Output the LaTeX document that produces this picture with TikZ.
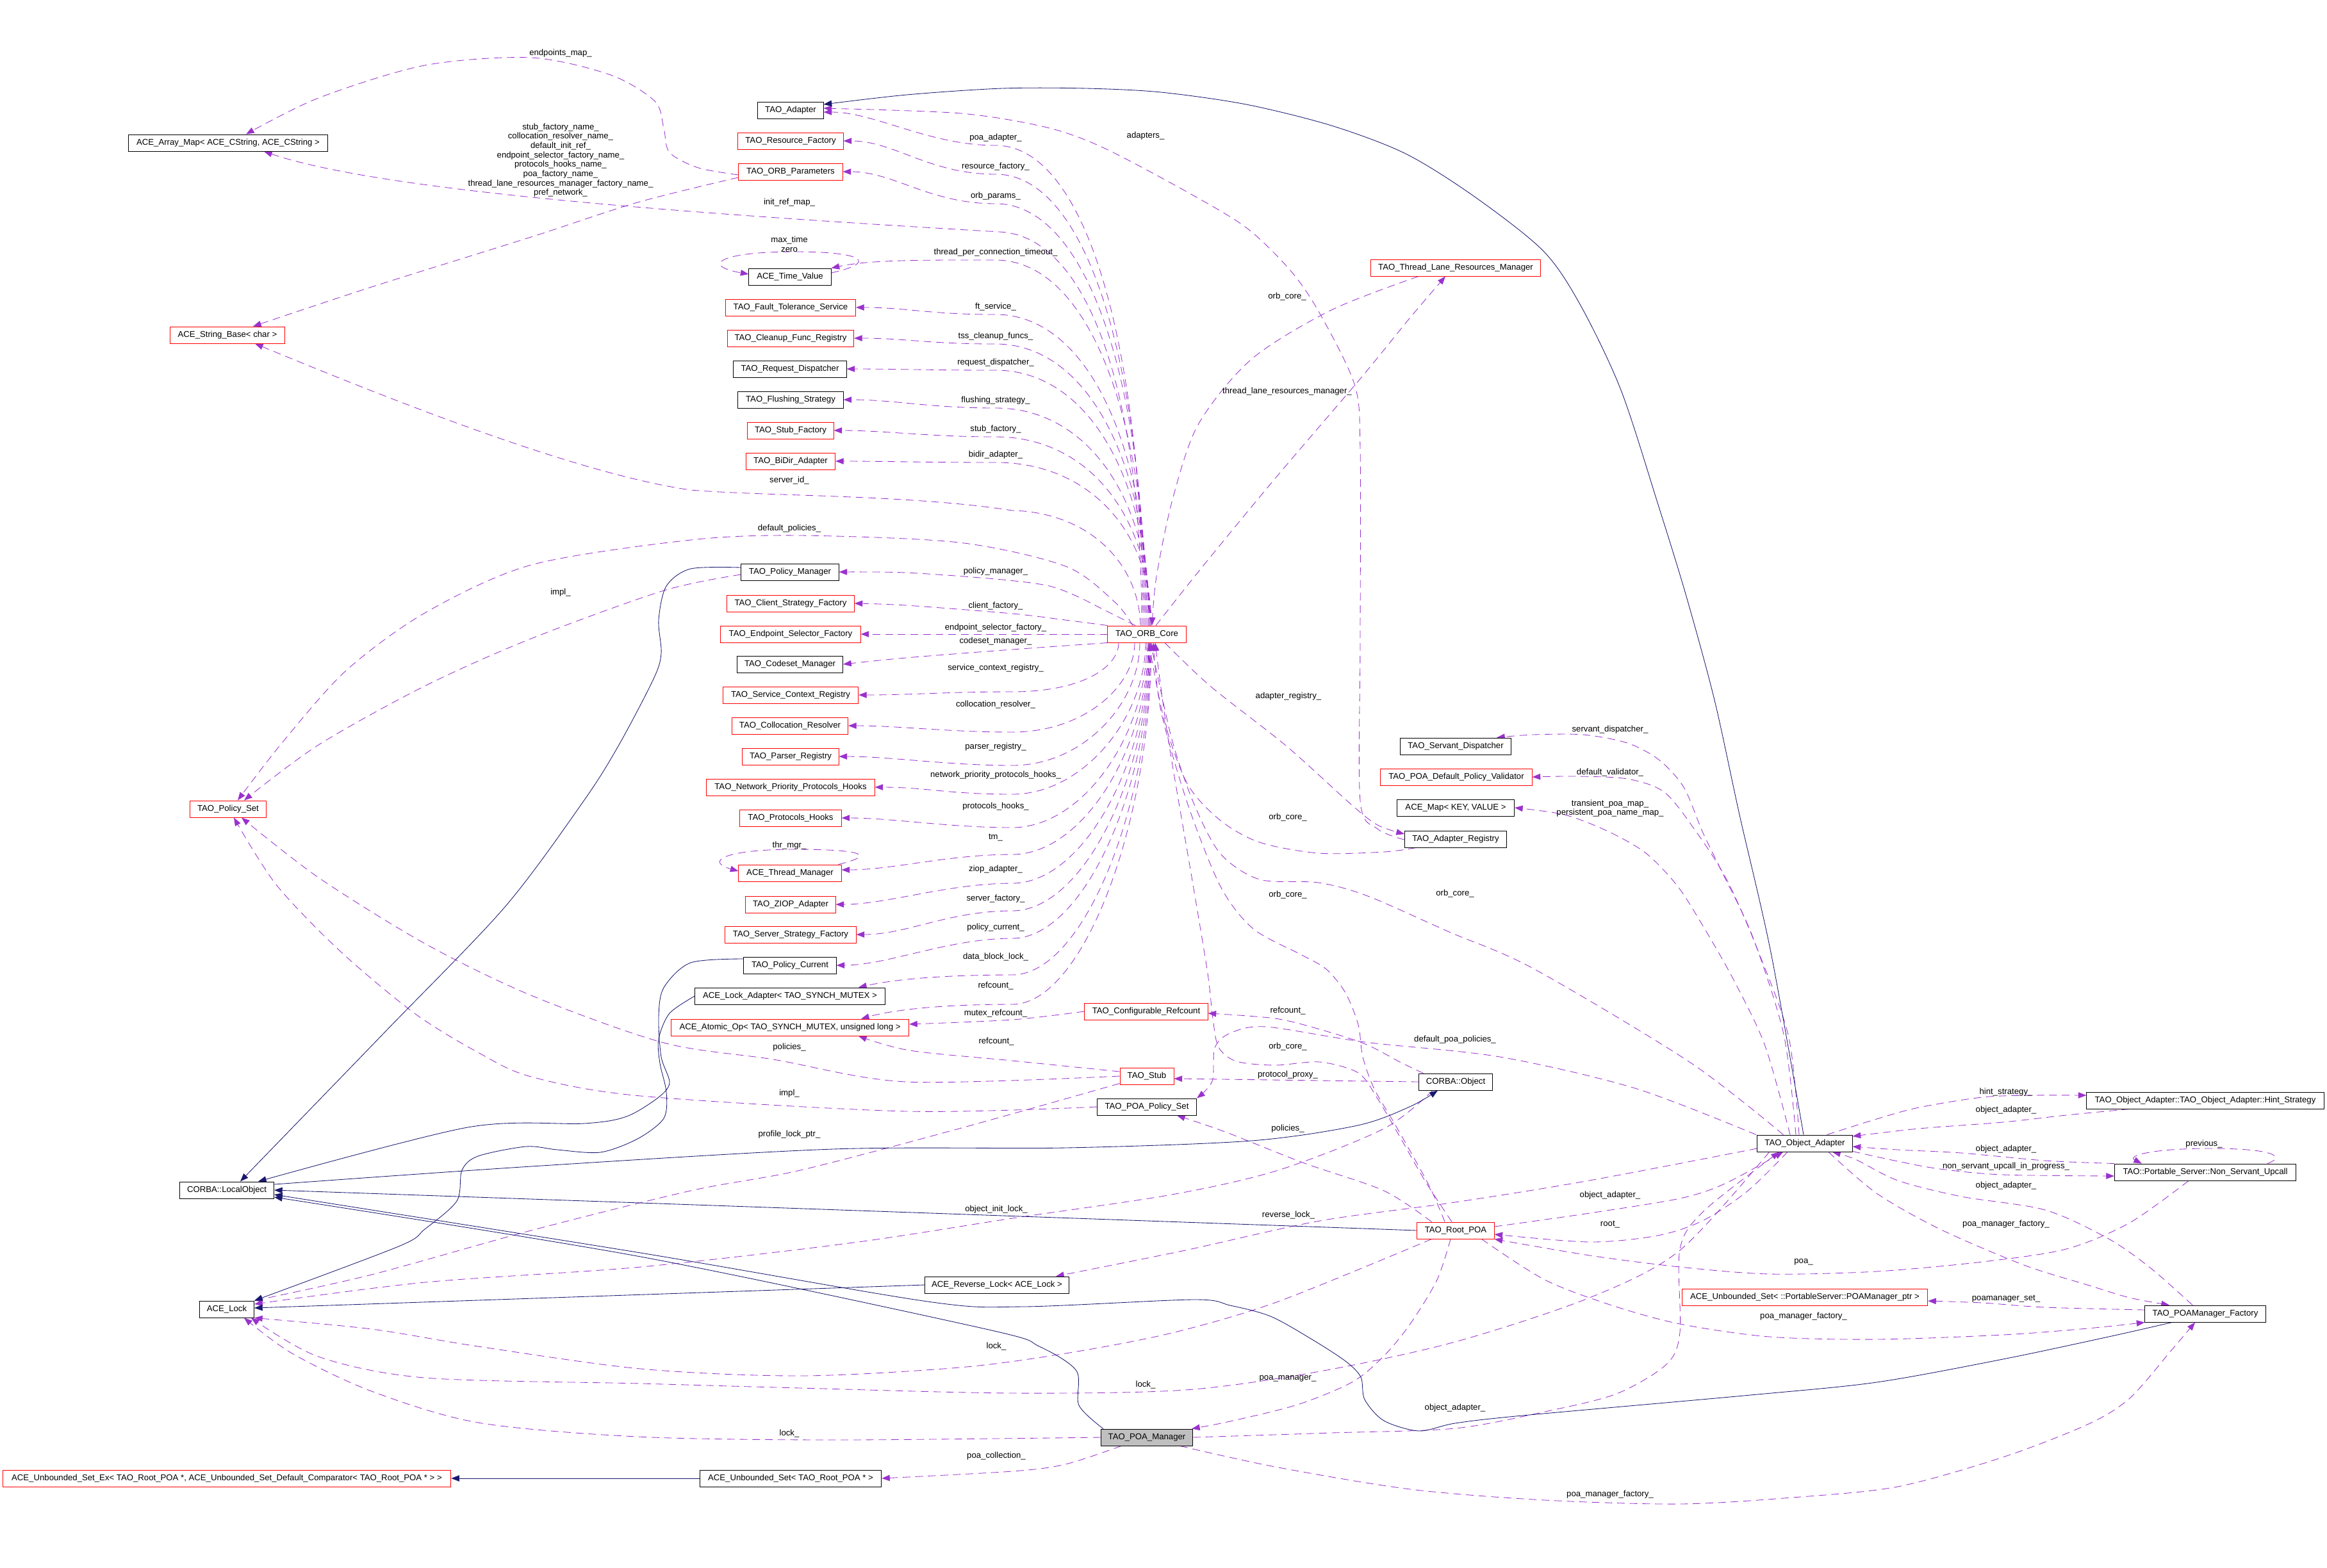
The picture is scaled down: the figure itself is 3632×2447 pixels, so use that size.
\documentclass[tikz,border=0pt]{standalone}
\usepackage{fontspec}
\setmainfont{Liberation Sans}
\usetikzlibrary{arrows.meta,calc}
\definecolor{mpurple}{HTML}{9A32CD}
\definecolor{mnavy}{HTML}{191970}
\definecolor{mgray}{HTML}{BFBFBF}
\newcommand{\fs}{\fontsize{3.75pt}{4.17pt}\selectfont}
\pgfdeclarelayer{bg}
\pgfdeclarelayer{bgfill}
\pgfsetlayers{bgfill,bg,main}
\begin{document}
\begin{tikzpicture}[x=0.01cm,y=-0.01cm,
  box/.style={draw=black, line width=0.28pt, fill=white, inner sep=0pt, minimum height=0.26cm, font=\fs},
  rbox/.style={box, draw=red},
  lbl/.style={inner sep=0pt, font=\fs, align=center},
  mem/.style={draw=mpurple, line width=0.24pt, dash pattern=on 3.4pt off 2.2pt, -{Triangle[length=3.6pt,width=2.7pt]}},
  inh/.style={draw=mnavy, line width=0.24pt, -{Triangle[length=3.6pt,width=2.7pt]}}]
\begin{pgfonlayer}{bgfill}
\fill[white] (0,0) rectangle (3632,2447);
\end{pgfonlayer}
\useasboundingbox (0,0) rectangle (3632,2447);
% ---------------- nodes ----------------
\node[box, minimum width=3.11cm] (arraymap) at (356,223) {ACE\_Array\_Map< ACE\_CString, ACE\_CString >};
\node[rbox, minimum width=1.79cm] (strbase) at (355,523) {ACE\_String\_Base< char >};
\node[box, minimum width=1.02cm] (adapter) at (1234,172) {TAO\_Adapter};
\node[rbox, minimum width=1.64cm] (resfac) at (1234,220) {TAO\_Resource\_Factory};
\node[rbox, minimum width=1.62cm] (orbparams) at (1234,268) {TAO\_ORB\_Parameters};
\node[box, minimum width=1.28cm] (timeval) at (1233,432) {ACE\_Time\_Value};
\node[rbox, minimum width=2.03cm] (ftserv) at (1234,480) {TAO\_Fault\_Tolerance\_Service};
\node[rbox, minimum width=1.97cm] (cleanup) at (1234,528) {TAO\_Cleanup\_Func\_Registry};
\node[box, minimum width=1.76cm] (reqdisp) at (1233,576) {TAO\_Request\_Dispatcher};
\node[box, minimum width=1.64cm] (flush) at (1234,624) {TAO\_Flushing\_Strategy};
\node[rbox, minimum width=1.34cm] (stubfac) at (1234,672) {TAO\_Stub\_Factory};
\node[rbox, minimum width=1.39cm] (bidir) at (1234,720) {TAO\_BiDir\_Adapter};
\node[rbox, minimum width=2.65cm] (tlrm) at (2272,418) {TAO\_Thread\_Lane\_Resources\_Manager};
\node[rbox, minimum width=1.19cm] (policyset) at (356,1263) {TAO\_Policy\_Set};
\node[box, minimum width=1.52cm] (polmgr) at (1233,893) {TAO\_Policy\_Manager};
\node[rbox, minimum width=1.98cm] (clientsf) at (1234,942) {TAO\_Client\_Strategy\_Factory};
\node[rbox, minimum width=2.18cm] (endpsel) at (1234,990) {TAO\_Endpoint\_Selector\_Factory};
\node[box, minimum width=1.65cm] (codeset) at (1233,1037) {TAO\_Codeset\_Manager};
\node[rbox, minimum width=2.11cm] (svcctx) at (1234,1085) {TAO\_Service\_Context\_Registry};
\node[rbox, minimum width=1.81cm] (colloc) at (1233,1133) {TAO\_Collocation\_Resolver};
\node[rbox, minimum width=1.50cm] (parser) at (1234,1181) {TAO\_Parser\_Registry};
\node[rbox, minimum width=2.62cm] (netprio) at (1234,1229) {TAO\_Network\_Priority\_Protocols\_Hooks};
\node[rbox, minimum width=1.58cm] (prothooks) at (1234,1277) {TAO\_Protocols\_Hooks};
\node[rbox, minimum width=1.60cm] (thrmgr) at (1233,1363) {ACE\_Thread\_Manager};
\node[rbox, minimum width=1.40cm] (ziop) at (1234,1412) {TAO\_ZIOP\_Adapter};
\node[rbox, minimum width=2.04cm] (serverfac) at (1234,1459) {TAO\_Server\_Strategy\_Factory};
\node[box, minimum width=1.44cm] (polcur) at (1233,1507) {TAO\_Policy\_Current};
\node[box, minimum width=2.96cm] (lockadapter) at (1233,1555) {ACE\_Lock\_Adapter< TAO\_SYNCH\_MUTEX >};
\node[rbox, minimum width=3.71cm] (atomic) at (1233,1604) {ACE\_Atomic\_Op< TAO\_SYNCH\_MUTEX, unsigned long >};
\node[rbox, minimum width=1.22cm] (orbcore) at (1790,990) {TAO\_ORB\_Core};
\node[rbox, minimum width=1.92cm] (confref) at (1789,1579) {TAO\_Configurable\_Refcount};
\node[rbox, minimum width=0.84cm] (stub) at (1790,1680) {TAO\_Stub};
\node[box, minimum width=1.55cm] (poapolset) at (1790,1728) {TAO\_POA\_Policy\_Set};
\node[box, minimum width=2.25cm] (revlock) at (1556,2006) {ACE\_Reverse\_Lock< ACE\_Lock >};
\node[box, minimum width=1.43cm, fill=mgray] (poamgr) at (1790,2244) {TAO\_POA\_Manager};
\node[box, minimum width=2.83cm] (unbset) at (1234,2308) {ACE\_Unbounded\_Set< TAO\_Root\_POA * >};
\node[rbox, minimum width=6.99cm] (unbsetex) at (354,2308) {ACE\_Unbounded\_Set\_Ex< TAO\_Root\_POA *, ACE\_Unbounded\_Set\_Default\_Comparator< TAO\_Root\_POA * > >};
\node[box, minimum width=1.47cm] (localobj) at (354,1858) {CORBA::LocalObject};
\node[box, minimum width=0.85cm] (acelock) at (354,2044) {ACE\_Lock};
\node[box, minimum width=1.73cm] (servdisp) at (2272,1165) {TAO\_Servant\_Dispatcher};
\node[rbox, minimum width=2.36cm] (poadefval) at (2273,1213) {TAO\_POA\_Default\_Policy\_Validator};
\node[box, minimum width=1.83cm] (acemap) at (2272,1261) {ACE\_Map< KEY, VALUE >};
\node[box, minimum width=1.59cm] (adreg) at (2272,1310) {TAO\_Adapter\_Registry};
\node[box, minimum width=1.14cm] (corbaobj) at (2272,1689) {CORBA::Object};
\node[box, minimum width=1.48cm] (objadapter) at (2817,1785) {TAO\_Object\_Adapter};
\node[box, minimum width=3.70cm] (hint) at (3442,1718) {TAO\_Object\_Adapter::TAO\_Object\_Adapter::Hint\_Strategy};
\node[box, minimum width=2.83cm] (nsu) at (3442,1830) {TAO::Portable\_Server::Non\_Servant\_Upcall};
\node[rbox, minimum width=1.20cm] (rootpoa) at (2272,1921) {TAO\_Root\_POA};
\node[rbox, minimum width=3.83cm] (unbsetmgr) at (2817,2025) {ACE\_Unbounded\_Set< ::PortableServer::POAManager\_ptr >};
\node[box, minimum width=1.88cm] (poamgrfac) at (3442,2051) {TAO\_POAManager\_Factory};
% ---------------- labels ----------------
\node[lbl] (l01) at (875,83) {endpoints\_map\_};
\node[lbl] (l02) at (875,250) {stub\_factory\_name\_\\collocation\_resolver\_name\_\\default\_init\_ref\_\\endpoint\_selector\_factory\_name\_\\protocols\_hooks\_name\_\\poa\_factory\_name\_\\thread\_lane\_resources\_manager\_factory\_name\_\\pref\_network\_};
\node[lbl] (l03) at (1232,316) {init\_ref\_map\_};
\node[lbl] (l04) at (1232,381) {max\_time\\zero};
\node[lbl] (l05) at (1232,750) {server\_id\_};
\node[lbl] (l06) at (1232,825) {default\_policies\_};
\node[lbl] (l07) at (875,925) {impl\_};
\node[lbl] (l08) at (1232,1320) {thr\_mgr\_};
\node[lbl] (l09) at (1232,1635) {policies\_};
\node[lbl] (l10) at (1232,1707) {impl\_};
\node[lbl] (l11) at (1232,1771) {profile\_lock\_ptr\_};
\node[lbl] (l12) at (1232,2238) {lock\_};
\node[lbl] (l13) at (1554,215) {poa\_adapter\_};
\node[lbl] (l14) at (1554,260) {resource\_factory\_};
\node[lbl] (l15) at (1554,306) {orb\_params\_};
\node[lbl] (l16) at (1554,394) {thread\_per\_connection\_timeout\_};
\node[lbl] (l17) at (1554,479) {ft\_service\_};
\node[lbl] (l18) at (1554,525) {tss\_cleanup\_funcs\_};
\node[lbl] (l19) at (1554,566) {request\_dispatcher\_};
\node[lbl] (l20) at (1554,625) {flushing\_strategy\_};
\node[lbl] (l21) at (1554,670) {stub\_factory\_};
\node[lbl] (l22) at (1554,710) {bidir\_adapter\_};
\node[lbl] (l23) at (1554,892) {policy\_manager\_};
\node[lbl] (l24) at (1554,946) {client\_factory\_};
\node[lbl] (l25) at (1554,980) {endpoint\_selector\_factory\_};
\node[lbl] (l26) at (1554,1001) {codeset\_manager\_};
\node[lbl] (l27) at (1554,1043) {service\_context\_registry\_};
\node[lbl] (l28) at (1554,1100) {collocation\_resolver\_};
\node[lbl] (l29) at (1554,1166) {parser\_registry\_};
\node[lbl] (l30) at (1554,1210) {network\_priority\_protocols\_hooks\_};
\node[lbl] (l31) at (1554,1259) {protocols\_hooks\_};
\node[lbl] (l32) at (1554,1308) {tm\_};
\node[lbl] (l33) at (1554,1357) {ziop\_adapter\_};
\node[lbl] (l34) at (1554,1403) {server\_factory\_};
\node[lbl] (l35) at (1554,1448) {policy\_current\_};
\node[lbl] (l36) at (1554,1494) {data\_block\_lock\_};
\node[lbl] (l37) at (1554,1539) {refcount\_};
\node[lbl] (l38) at (1554,1582) {mutex\_refcount\_};
\node[lbl] (l39) at (1555,1626) {refcount\_};
\node[lbl] (l40) at (1555,1888) {object\_init\_lock\_};
\node[lbl] (l41) at (1555,2102) {lock\_};
\node[lbl] (l42) at (1555,2273) {poa\_collection\_};
\node[lbl] (l43) at (1788,212) {adapters\_};
\node[lbl] (l44) at (1788,2162) {lock\_};
\node[lbl] (l45) at (2009,463) {orb\_core\_};
\node[lbl] (l46) at (2009,611) {thread\_lane\_resources\_manager\_};
\node[lbl] (l47) at (2011,1087) {adapter\_registry\_};
\node[lbl] (l48) at (2010,1276) {orb\_core\_};
\node[lbl] (l49) at (2010,1397) {orb\_core\_};
\node[lbl] (l50) at (2010,1578) {refcount\_};
\node[lbl] (l51) at (2010,1634) {orb\_core\_};
\node[lbl] (l52) at (2010,1678) {protocol\_proxy\_};
\node[lbl] (l53) at (2010,1762) {policies\_};
\node[lbl] (l54) at (2011,1897) {reverse\_lock\_};
\node[lbl] (l55) at (2010,2152) {poa\_manager\_};
\node[lbl] (l56) at (2271,1395) {orb\_core\_};
\node[lbl] (l57) at (2271,1623) {default\_poa\_policies\_};
\node[lbl] (l58) at (2271,2198) {object\_adapter\_};
\node[lbl] (l59) at (2513,1139) {servant\_dispatcher\_};
\node[lbl] (l60) at (2513,1206) {default\_validator\_};
\node[lbl] (l61) at (2513,1262) {transient\_poa\_map\_\\persistent\_poa\_name\_map\_};
\node[lbl] (l62) at (2513,1866) {object\_adapter\_};
\node[lbl] (l63) at (2513,1912) {root\_};
\node[lbl] (l64) at (2513,2333) {poa\_manager\_factory\_};
\node[lbl] (l65) at (2815,1970) {poa\_};
\node[lbl] (l66) at (2815,2055) {poa\_manager\_factory\_};
\node[lbl] (l67) at (3131,1705) {hint\_strategy\_};
\node[lbl] (l68) at (3131,1733) {object\_adapter\_};
\node[lbl] (l69) at (3131,1794) {object\_adapter\_};
\node[lbl] (l70) at (3131,1821) {non\_servant\_upcall\_in\_progress\_};
\node[lbl] (l71) at (3131,1851) {object\_adapter\_};
\node[lbl] (l72) at (3131,1911) {poa\_manager\_factory\_};
\node[lbl] (l73) at (3131,2028) {poamanager\_set\_};
\node[lbl] (l74) at (3440,1786) {previous\_};
% ---------------- edges ----------------
\begin{pgfonlayer}{bg}
% upper fan from TAO_ORB_Core
\draw[mem] ($(orbcore.north)+(-6,0)$) .. controls (1784,558) and (1700,227) .. (1554,227) .. controls (1450,227) and (1365,175) .. ($(adapter.east)+(0,3)$);
\draw[mem] ($(orbcore.north)+(-4,0)$) .. controls (1786,583) and (1700,272) .. (1554,272) .. controls (1450,272) and (1396,220) .. (resfac.east);
\draw[mem] ($(orbcore.north)+(-2,0)$) .. controls (1788,608) and (1700,318) .. (1554,318) .. controls (1450,318) and (1395,268) .. (orbparams.east);
\draw[mem] (orbcore.north) .. controls (1790,656) and (1700,406) .. (1554,406) .. controls (1450,406) and (1360,405) .. (timeval.north east);
\draw[mem] ($(orbcore.north)+(2,0)$) .. controls (1792,703) and (1700,491) .. (1554,491) .. controls (1450,491) and (1415,480) .. (ftserv.east);
\draw[mem] ($(orbcore.north)+(3,0)$) .. controls (1793,728) and (1700,537) .. (1554,537) .. controls (1450,537) and (1412,528) .. (cleanup.east);
\draw[mem] ($(orbcore.north)+(4,0)$) .. controls (1794,751) and (1700,578) .. (1554,578) .. controls (1450,578) and (1401,576) .. (reqdisp.east);
\draw[mem] ($(orbcore.north)+(5,0)$) .. controls (1795,783) and (1700,637) .. (1554,637) .. controls (1450,637) and (1396,624) .. (flush.east);
\draw[mem] ($(orbcore.north)+(6,0)$) .. controls (1796,808) and (1700,682) .. (1554,682) .. controls (1450,682) and (1381,672) .. (stubfac.east);
\draw[mem] ($(orbcore.north)+(7,0)$) .. controls (1797,830) and (1700,722) .. (1554,722) .. controls (1450,722) and (1383,720) .. (bidir.east);
\draw[mem] ($(orbcore.north)+(-8,0)$) .. controls (1782,620) and (1700,368) .. (1560,362) .. controls (1100,335) and (600,300) .. ($(arraymap.south)+(56,0)$);
\draw[mem] ($(orbcore.north)+(-10,0)$) .. controls (1778,880) and (1700,800) .. (1580,797) .. controls (1420,772) and (1200,775) .. (1078,765) .. controls (900,740) and (600,620) .. ($(strbase.south)+(43,0)$);
\draw[mem] plot[smooth] coordinates {($(orbcore.north)+(-22,0)$) (1740,940) (1663,884) (1497,847) (1249,836) (1078,843) (829,882) (663,957) (539,1048) (440,1160) ($(policyset.north)+(15,0)$)};
\draw[mem] plot[smooth] coordinates {($(orbcore.north)+(-18,0)$) (1723,952) (1679,930) (1634,914) (1554,904) (1414,894) (polmgr.east)};
\draw[mem] plot[smooth] coordinates {(orbcore.north west) (1663,968) (1580,958) (1414,945) (clientsf.east)};
\draw[mem] (orbcore.west) -- (endpsel.east);
\draw[mem] plot[smooth] coordinates {(orbcore.south west) (1580,1014) (1414,1027) (codeset.east)};
% lower fan
\draw[mem] ($(orbcore.south)+(-44,0)$) .. controls (1746,1041) and (1690,1080) .. (1580,1080) .. controls (1480,1080) and (1419,1085) .. (svcctx.east);
\draw[mem] ($(orbcore.south)+(-19,0)$) .. controls (1771,1073) and (1690,1143) .. (1580,1143) .. controls (1480,1143) and (1404,1133) .. (colloc.east);
\draw[mem] ($(orbcore.south)+(-11,0)$) .. controls (1779,1099) and (1690,1195) .. (1580,1195) .. controls (1480,1195) and (1389,1181) .. (parser.east);
\draw[mem] ($(orbcore.south)+(-2,0)$) .. controls (1788,1121) and (1690,1240) .. (1580,1240) .. controls (1480,1240) and (1445,1229) .. (netprio.east);
\draw[mem] (orbcore.south) .. controls (1790,1147) and (1690,1292) .. (1580,1292) .. controls (1480,1292) and (1393,1277) .. (prothooks.east);
\draw[mem] ($(orbcore.south)+(2,0)$) .. controls (1792,1168) and (1690,1334) .. (1580,1334) .. controls (1480,1334) and (1393,1358) .. ($(thrmgr.east)+(0,-5)$);
\draw[mem] ($(orbcore.south)+(3,0)$) .. controls (1793,1191) and (1690,1379) .. (1580,1379) .. controls (1480,1379) and (1384,1412) .. (ziop.east);
\draw[mem] ($(orbcore.south)+(4,0)$) .. controls (1794,1212) and (1690,1422) .. (1580,1422) .. controls (1480,1422) and (1416,1459) .. (serverfac.east);
\draw[mem] ($(orbcore.south)+(5,0)$) .. controls (1795,1234) and (1690,1465) .. (1580,1465) .. controls (1480,1465) and (1385,1507) .. (polcur.east);
\draw[mem] ($(orbcore.south)+(6,0)$) .. controls (1796,1262) and (1690,1522) .. (1580,1522) .. controls (1480,1522) and (1400,1528) .. ($(lockadapter.north)+(107,0)$);
\draw[mem] ($(orbcore.south)+(7,0)$) .. controls (1797,1285) and (1690,1568) .. (1580,1568) .. controls (1480,1568) and (1400,1575) .. ($(atomic.north)+(111,0)$);
% self loops
\draw[mem] ($(timeval.east)+(0,-6)$) .. controls (1370,410) and (1350,393) .. (1240,393) .. controls (1120,393) and (1095,415) .. ($(timeval.west)+(0,-4)$);
\draw[mem] ($(thrmgr.north east)+(-5,0)$) .. controls (1370,1335) and (1345,1326) .. (1240,1326) .. controls (1130,1326) and (1100,1345) .. ($(thrmgr.west)+(0,-3)$);
\draw[mem] ($(nsu.north east)+(-45,0)$) .. controls (3570,1805) and (3545,1793) .. (3450,1793) .. controls (3355,1793) and (3320,1805) .. ($(nsu.north west)+(43,0)$);
% left side
\draw[mem] plot[smooth] coordinates {($(orbparams.west)+(0,5)$) (1090,262) (1045,238) (1036,200) (1022,158) (953,117) (829,90) (663,102) (497,153) ($(arraymap.north)+(28,0)$)};
\draw[mem] plot[smooth] coordinates {($(orbparams.west)+(0,9)$) (995,316) (829,370) (580,448) ($(strbase.north)+(40,0)$)};
\draw[mem] plot[smooth] coordinates {($(polmgr.west)+(0,4)$) (1036,922) (829,997) (663,1071) (497,1163) ($(policyset.north)+(25,0)$)};
\draw[mem] plot[smooth] coordinates {(stub.west) (1415,1689) (1207,1654) (1036,1628) (829,1554) (663,1473) (497,1370) ($(policyset.south)+(21,0)$)};
\draw[mem] plot[smooth] coordinates {(poapolset.west) (1415,1735) (1000,1711) (829,1681) (746,1643) (647,1582) (531,1485) (431,1381) ($(policyset.south)+(9,0)$)};
\draw[mem] plot[smooth] coordinates {($(stub.south west)+(0,-2)$) (1497,1762) (1249,1827) (1078,1859) (829,1921) (580,1990) (acelock.north east)};
\draw[mem] plot[smooth] coordinates {(confref.west) (1580,1592) ($(atomic.east)+(0,-5)$)};
\draw[mem] plot[smooth] coordinates {($(stub.west)+(0,-7)$) (1580,1656) (1420,1640) ($(atomic.south)+(107,0)$)};
\draw[mem] (corbaobj.west) -- ($(stub.east)+(0,4)$);
\draw[mem] plot[smooth] coordinates {($(corbaobj.north west)+(7,0)$) (2187,1659) (2131,1630) (2060,1607) (1990,1590) ($(confref.east)+(0,3)$)};
\draw[mem] plot[smooth] coordinates {($(objadapter.north)+(-76,0)$) (2552,1699) (2341,1650) (2131,1627) (1976,1603) (1920,1613) (1896,1636) (1892,1688) (poapolset.north east)};
\draw[mem] plot[smooth] coordinates {($(rootpoa.north west)+(23,0)$) (2160,1859) (2036,1816) (1912,1767) ($(poapolset.south)+(47,0)$)};
% ORB core / thread lane / adapters
\draw[mem] plot[smooth] coordinates {($(tlrm.south west)+(75,0)$) (2078,484) (1953,561) (1870,663) (1830,780) (1805,900) ($(orbcore.north)+(8,0)$)};
\draw[mem] plot[smooth] coordinates {($(orbcore.north)+(14,0)$) (1879,882) (1991,746) (2125,589) (2200,497) ($(tlrm.south)+(-16,0)$)};
\draw[mem] plot[smooth] coordinates {($(adreg.west)+(0,1)$) (2150,1294) (2123,1250) (2123,1000) (2123,700) (2114,600) (2058,486) (2013,421) (1946,356) (1857,302) (1723,231) (1634,199) (1500,177) ($(adapter.east)+(0,-3)$)};
\draw[mem] plot[smooth] coordinates {($(orbcore.south)+(28,0)$) (1890,1072) (2007,1164) (2109,1256) (2150,1288) ($(adreg.west)+(0,-8)$)};
\draw[mem] plot[smooth] coordinates {($(adreg.south west)+(18,0)$) (2160,1330) (2058,1332) (1966,1315) (1905,1281) (1854,1225) (1818,1128) ($(orbcore.south)+(3,0)$)};
\draw[mem] plot[smooth] coordinates {($(objadapter.north west)+(41,0)$) (2637,1658) (2393,1512) (2262,1455) (2135,1399) (2058,1378) (1966,1373) (1905,1333) (1864,1256) (1829,1154) ($(orbcore.south)+(6,0)$)};
\draw[mem] plot[smooth] coordinates {($(rootpoa.north)+(-17,0)$) (2230,1850) (2180,1760) (2145,1700) (2127,1650) (2120,1600) (2100,1550) (2070,1513) (2032,1491) (1956,1450) (1905,1384) (1854,1256) (1812,1110) ($(orbcore.south)+(10,0)$)};
\draw[mem] plot[smooth] coordinates {($(rootpoa.north)+(-6,0)$) (2225,1845) (2185,1775) (2150,1715) (2120,1675) (2060,1658) (1990,1663) (1930,1657) (1902,1635) (1893,1590) (1885,1520) (1862,1381) (1823,1152) ($(orbcore.south)+(13,0)$)};
% object adapter members
\draw[mem] plot[smooth] coordinates {($(objadapter.north)+(-14,0)$) (2784,1615) (2735,1461) (2686,1358) (2657,1298) (2628,1229) (2589,1186) (2540,1160) (2471,1147) (2393,1147) ($(servdisp.north east)+(-23,0)$)};
\draw[mem] plot[smooth] coordinates {($(objadapter.north)+(-9,0)$) (2792,1620) (2745,1487) (2696,1375) (2647,1298) (2598,1237) (2540,1216) (2460,1212) (poadefval.east)};
\draw[mem] plot[smooth] coordinates {($(objadapter.north)+(-23,0)$) (2755,1633) (2706,1530) (2657,1444) (2618,1383) (2569,1332) (2510,1298) (2442,1272) (acemap.east)};
\draw[mem] plot[smooth] coordinates {($(objadapter.north east)+(-40,0)$) (2929,1747) (2995,1729) (3094,1713) (3172,1710) ($(hint.west)+(0,-8)$)};
\draw[mem] plot[smooth] coordinates {($(hint.south west)+(67,0)$) (3225,1741) (3126,1752) (2995,1762) ($(objadapter.east)+(0,-11)$)};
\draw[mem] plot[smooth] coordinates {(nsu.north west) (3192,1812) (3061,1800) (2962,1795) ($(objadapter.east)+(0,5)$)};
\draw[mem] plot[smooth] coordinates {($(objadapter.south east)+(0,-1)$) (2962,1813) (3028,1825) (3126,1834) ($(nsu.west)+(0,6)$)};
\draw[mem] plot[smooth] coordinates {($(poamgrfac.north)+(-20,0)$) (3357,1980) (3291,1934) (3192,1889) (3061,1868) (2962,1843) (2896,1810) ($(objadapter.south)+(43,0)$)};
\draw[mem] plot[smooth] coordinates {($(objadapter.south)+(37,0)$) (2929,1863) (3028,1919) (3159,1975) (3258,2006) (3324,2026) ($(poamgrfac.north)+(-56,0)$)};
\draw[mem] plot[smooth] coordinates {($(nsu.south west)+(116,0)$) (3324,1909) (3225,1950) (3094,1970) (2929,1985) (2762,1989) (2622,1978) (2481,1960) (rootpoa.south east)};
\draw[mem] plot[smooth] coordinates {($(objadapter.south)+(-27,0)$) (2727,1860) (2657,1906) (2587,1929) (2481,1939) ($(rootpoa.east)+(0,6)$)};
\draw[mem] plot[smooth] coordinates {($(rootpoa.east)+(0,-6)$) (2481,1894) (2622,1871) (2692,1848) ($(objadapter.south)+(-34,0)$)};
\draw[mem] plot[smooth] coordinates {($(rootpoa.south east)+(-20,0)$) (2411,1998) (2516,2038) (2622,2067) (2762,2087) (2929,2091) (3126,2084) (3258,2074) (poamgrfac.south west)};
\draw[mem] plot[smooth] coordinates {($(poamgrfac.west)+(0,-6)$) (3192,2041) (3094,2034) ($(unbsetmgr.east)+(0,6)$)};
% POA manager and locks
\draw[mem] plot[smooth] coordinates {($(rootpoa.south)+(-8,0)$) (2243,1998) (2201,2067) (2159,2118) (2110,2158) (2025,2193) (1920,2219) ($(poamgr.north east)+(-2,0)$)};
\draw[mem] plot[smooth] coordinates {(poamgr.east) (2078,2237) (2271,2230) (2411,2204) (2523,2176) (2601,2130) (2622,2080) (2622,1950) (2660,1890) ($(objadapter.south)+(-40,0)$)};
\draw[mem] plot[smooth] coordinates {($(poamgr.south east)+(-20,0)$) (1990,2290) (2201,2325) (2411,2342) (2622,2348) (2797,2338) (2962,2321) (3126,2275) (3258,2224) (3324,2183) (3390,2107) ($(poamgrfac.south)+(-16,0)$)};
\draw[mem] plot[smooth] coordinates {(poamgr.west) (1300,2248) (995,2243) (746,2221) (580,2172) (456,2113) ($(acelock.south)+(27,0)$)};
\draw[mem] plot[smooth] coordinates {($(rootpoa.south west)+(23,0)$) (1995,2032) (1829,2081) (1663,2113) (1497,2135) (1249,2148) (1000,2137) (746,2102) (580,2075) (acelock.south east)};
\draw[mem] plot[smooth] coordinates {($(objadapter.south west)+(19,0)$) (2622,1952) (2481,2026) (2271,2095) (2060,2141) (1850,2170) (1580,2175) (1249,2167) (1000,2160) (663,2151) (497,2118) ($(acelock.south)+(38,0)$)};
\draw[mem] plot[smooth] coordinates {($(corbaobj.south)+(-36,0)$) (2160,1762) (1995,1827) (1829,1865) (1580,1902) (1332,1940) (1000,1978) (663,2002) ($(acelock.east)+(0,-8)$)};
\draw[mem] plot[smooth] coordinates {($(objadapter.west)+(0,8)$) (2481,1843) (2271,1877) (2060,1906) (1850,1952) ($(revlock.north east)+(-21,0)$)};
\draw[mem] plot[smooth] coordinates {($(poamgr.south west)+(32,0)$) (1663,2286) (1580,2297) (unbset.east)};
% inheritance
\draw[inh] plot[smooth] coordinates {($(objadapter.north)+(-2,0)$) (2764,1487) (2715,1272) (2676,1093) (2632,931) (2589,791) (2530,609) (2466,475) (2408,391) (2300,306) (2194,240) (2078,196) (1945,163) (1812,144) (1696,138) (1564,138) (1415,148) ($(adapter.east)+(0,-9)$)};
\draw[inh] plot[smooth] coordinates {($(polmgr.west)+(0,-7)$) (1078,888) (1040,915) (1028,968) (1032,1020) (1020,1060) (966,1163) (912,1249) (788,1416) (600,1612) ($(localobj.north)+(21,0)$)};
\draw[inh] plot[smooth] coordinates {($(polcur.west)+(0,-10)$) (1078,1503) (1036,1542) (1028,1588) (1032,1650) (1045,1690) (1028,1713) (978,1743) (912,1754) (730,1760) ($(localobj.north)+(49,0)$)};
\draw[inh] plot[smooth] coordinates {(lockadapter.west) (1045,1582) (1028,1622) (1030,1660) (1040,1705) (1036,1746) (995,1778) (937,1799) (870,1795) (821,1790) (746,1805) (721,1827) (713,1875) (663,1919) (622,1946) (acelock.north east)};
\draw[inh] plot[smooth] coordinates {(rootpoa.west) (1622,1900) (1000,1878) (localobj.east)};
\draw[inh] plot[smooth] coordinates {($(poamgr.north west)+(4,0)$) (1684,2194) (1680,2140) (1622,2102) (1539,2075) (1000,1962) ($(localobj.east)+(0,11)$)};
\draw[inh] plot[smooth] coordinates {($(poamgrfac.south)+(-52,0)$) (3291,2087) (3126,2122) (2929,2158) (2732,2178) (2376,2210) (2271,2222) (2215,2234) (2160,2218) (2130,2185) (2124,2150) (2100,2125) (2046,2090) (1983,2055) (1920,2038) (1862,2029) (1597,2040) (1448,2032) (1000,1956) ($(localobj.east)+(0,7)$)};
\draw[inh] plot[smooth] coordinates {($(localobj.east)+(0,-9)$) (829,1821) (1300,1794) (1663,1792) (1953,1781) (2119,1757) (2200,1728) ($(corbaobj.south)+(-28,0)$)};
\draw[inh] (revlock.west) -- ($(acelock.east)+(0,-2)$);
\draw[inh] (unbset.west) -- (unbsetex.east);
\end{pgfonlayer}
\end{tikzpicture}
\end{document}
